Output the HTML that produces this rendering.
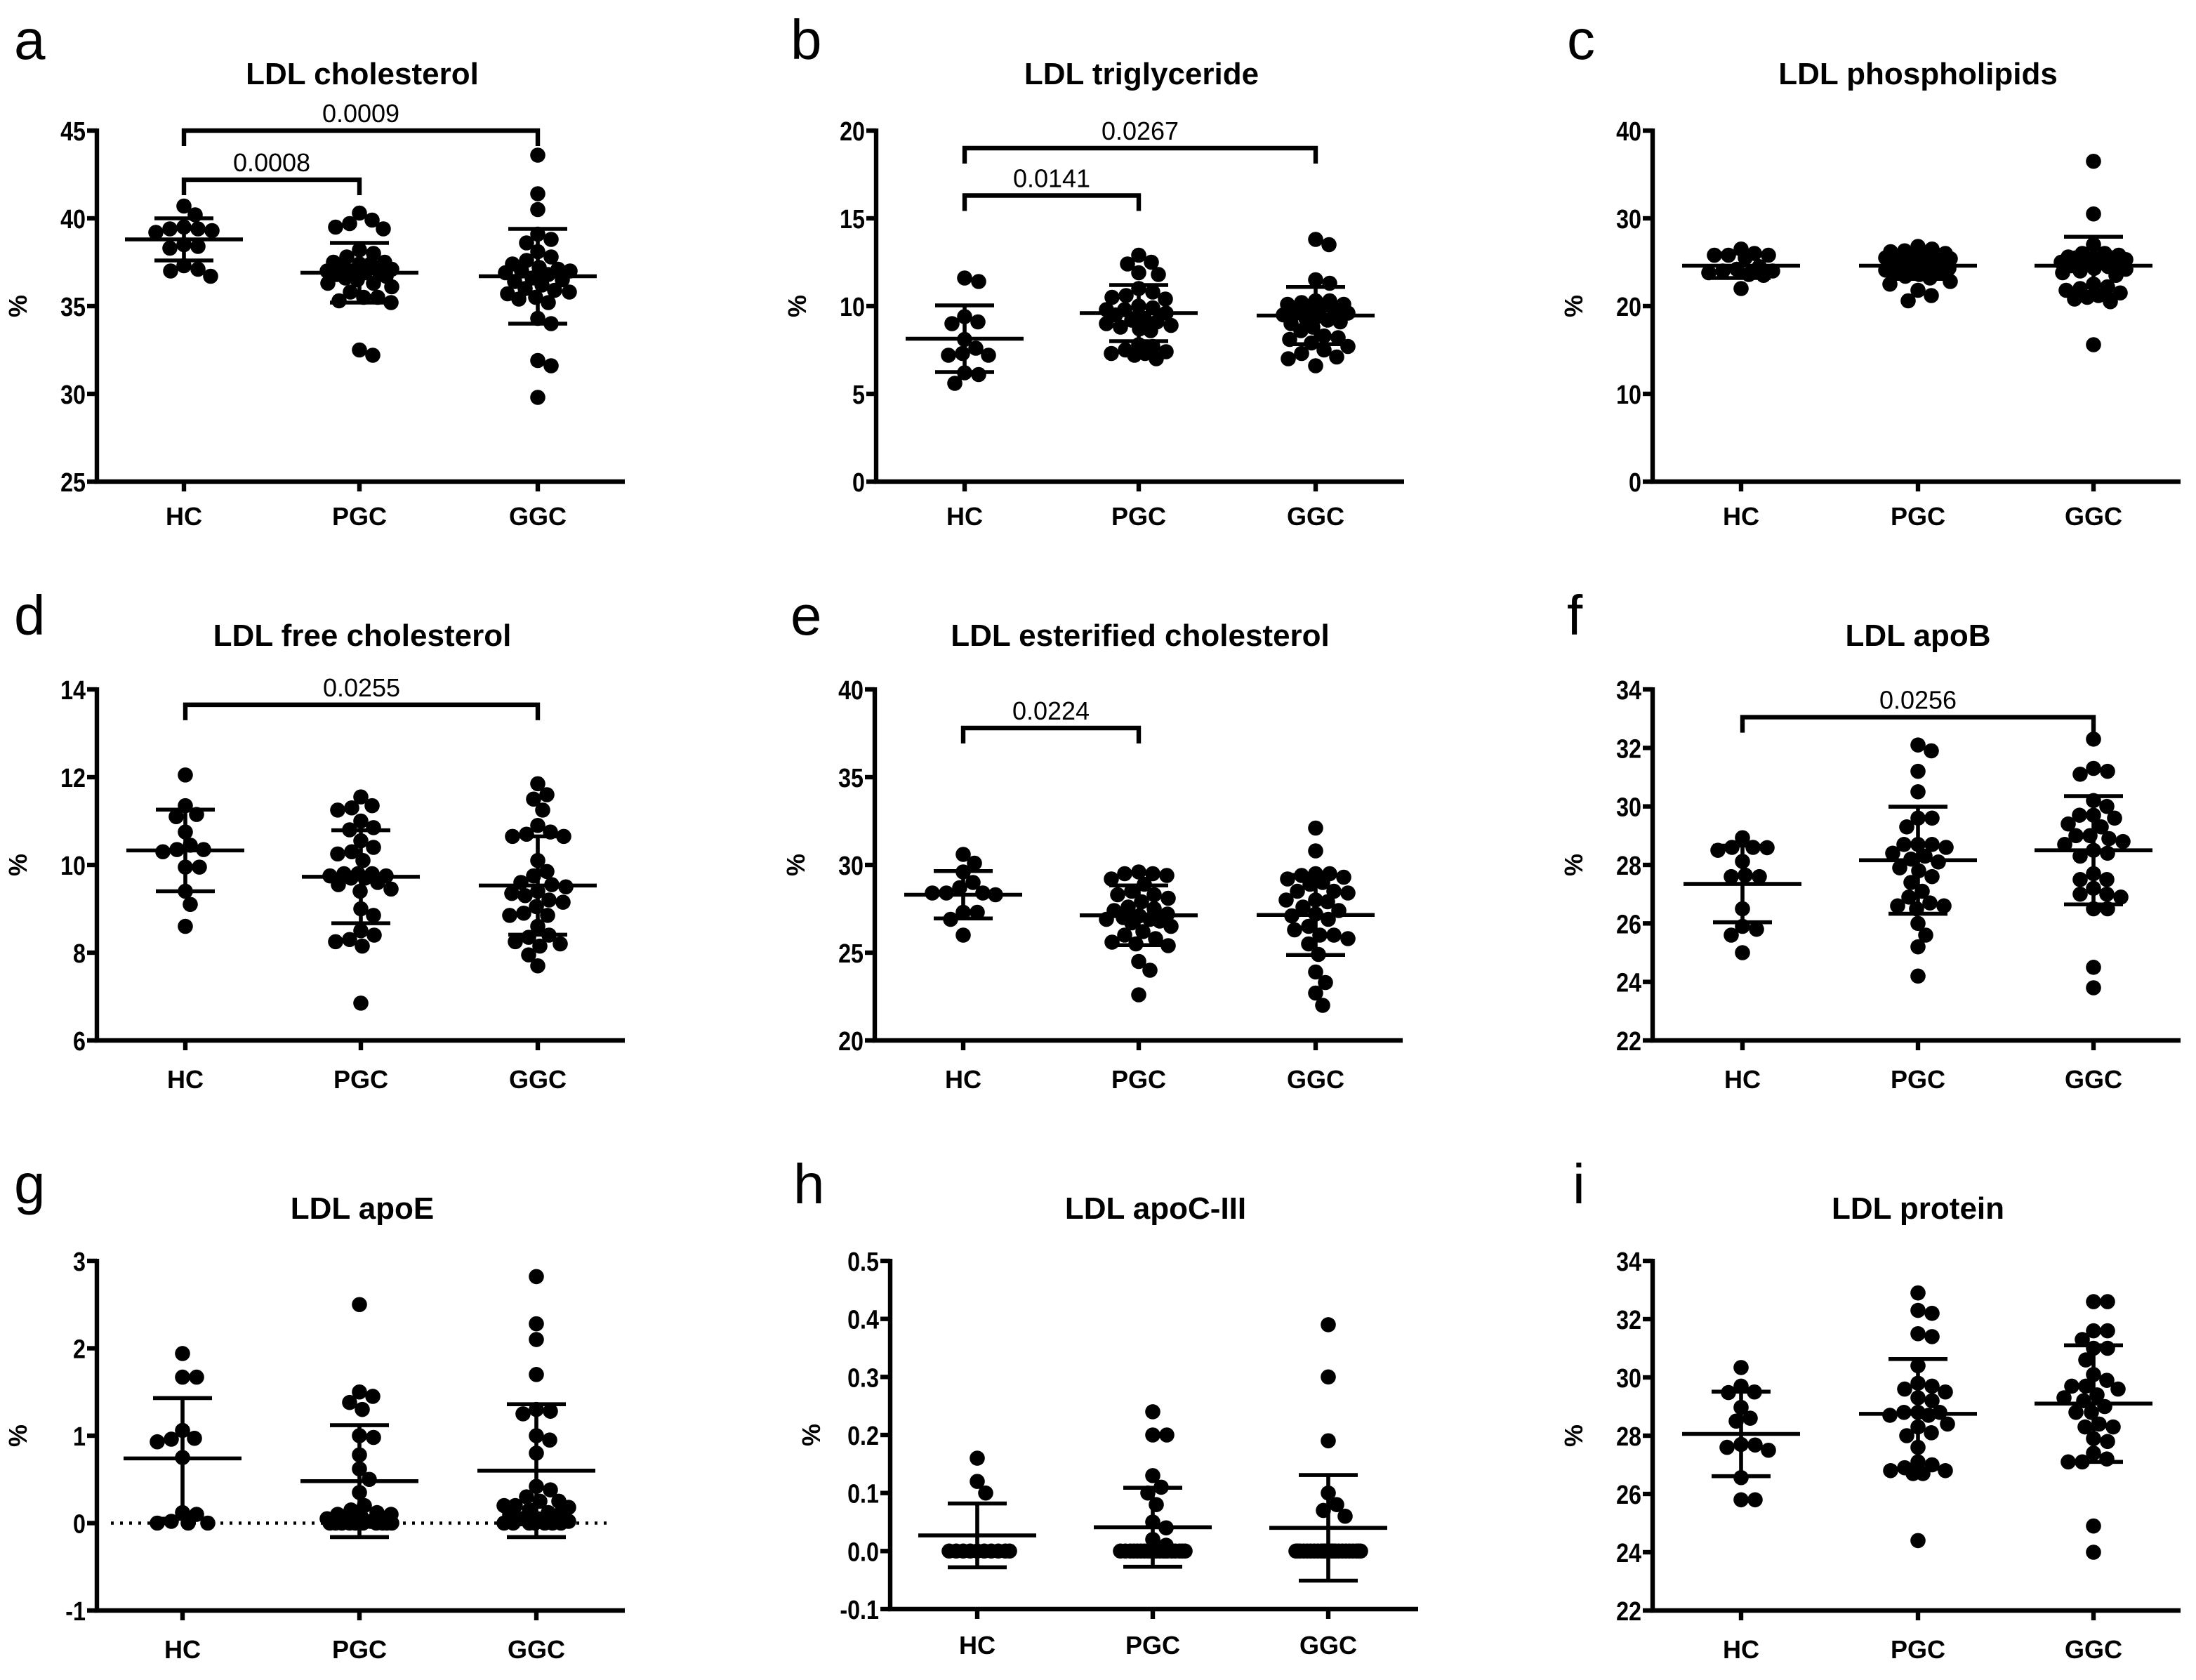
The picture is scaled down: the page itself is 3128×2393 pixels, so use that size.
<!DOCTYPE html>
<html><head><meta charset="utf-8"><style>
html,body{margin:0;padding:0;background:#fff;}
svg{display:block;}
text{font-family:"Liberation Sans",Arial,sans-serif;fill:#000;}
</style></head><body>
<svg id="fig" xmlns="http://www.w3.org/2000/svg" width="3128" height="2393" viewBox="0 0 1564 1196.5"></svg>
<script>
const categories = ["HC","PGC","GGC"];

// a LDL cholesterol
const aHC=[40.7,39.5,39.3,39.2,39.4,40.2,39.4,38.4,38.3,38.5,37.3,37.0,36.7,37.1];
const aPGC=[40.3,39.7,39.9,39.5,39.4,38.2,38.0,37.8,37.5,37.5,37.4,37.4,37.3,37.1,37.0,37.0,37.0,36.9,36.8,36.7,36.6,36.5,36.3,36.3,36.1,35.8,35.5,35.5,35.3,35.2,32.5,32.2];
const aGGC=[43.6,41.4,40.5,39.1,38.8,38.6,38.1,37.8,37.6,37.4,37.2,37.1,37.0,37.0,36.9,36.8,36.6,36.5,36.4,36.2,36.0,35.9,35.8,35.7,35.5,35.4,35.2,34.3,34.0,31.9,31.6,29.8];
const aMean=[38.8,36.9,36.7];
const aSD=[1.2,1.7,2.7];
const aTicks=[25,30,35,40,45];

// b LDL triglyceride
const bHC=[11.4,11.6,9.4,9.0,9.1,8.1,7.6,7.2,7.2,7.3,6.2,6.1,5.6];
const bPGC=[12.9,12.5,12.4,11.9,11.8,11.0,10.8,10.6,10.5,10.4,10.0,9.9,9.8,9.8,9.6,9.5,9.3,9.2,9.1,9.0,8.9,8.8,8.7,8.6,7.8,7.7,7.5,7.4,7.3,7.3,7.2,7.0];
const bGGC=[13.8,13.5,11.5,11.3,10.3,10.3,10.2,10.1,10.1,10.0,9.9,9.7,9.6,9.6,9.5,9.4,9.3,9.2,9.1,9.0,8.8,8.6,8.3,8.2,8.1,7.9,7.7,7.5,7.3,7.1,7.0,6.6];
const bMean=[8.14,9.6,9.46];
const bSD=[1.9,1.6,1.63];
const bTicks=[0,5,10,15,20];

// c LDL phospholipids
const cHC=[25.5,26.0,26.5,25.8,25.8,25.8,24.5,24.2,24.0,23.8,24.0,23.6,23.5,22.0];
const cPGC=[26.8,26.5,26.3,26.2,26.0,26.0,25.9,25.8,25.7,25.6,25.5,25.5,25.4,25.3,25.2,25.0,24.9,24.8,24.6,24.5,24.3,24.1,24.0,23.8,23.6,23.4,23.2,22.8,22.5,21.8,21.2,20.6];
const cGGC=[36.5,30.5,27.0,26.0,26.0,25.8,25.5,25.5,25.5,25.3,25.2,25.0,25.0,24.8,24.6,24.5,24.3,24.2,23.8,23.5,22.5,22.2,22.0,21.8,21.5,21.2,21.0,20.8,20.5,24.0,25.6,15.6];
const cMean=[24.6,24.6,24.6];
const cSD=[1.4,1.5,3.3];
const cTicks=[0,10,20,30,40];

// d LDL free cholesterol
const dHC=[12.05,11.35,11.15,11.1,10.75,10.45,10.35,10.3,10.35,9.95,9.95,9.4,9.1,8.6];
const dPGC=[11.55,11.3,11.35,11.25,11.0,10.85,10.8,10.55,10.4,10.3,10.25,10.1,9.8,9.8,9.8,9.75,9.75,9.7,9.7,9.6,9.55,9.45,9.4,9.0,8.85,8.5,8.4,8.3,8.25,8.15,6.85];
const dGGC=[11.85,11.6,11.5,11.25,10.9,10.75,10.7,10.65,10.65,10.1,9.85,9.75,9.6,9.55,9.5,9.4,9.35,9.3,9.2,9.15,9.05,8.9,8.85,8.85,8.6,8.4,8.35,8.25,8.2,8.15,7.95,7.7];
const dMean=[10.33,9.73,9.53];
const dSD=[0.93,1.06,1.12];
const dTicks=[6,8,10,12,14];

// e LDL esterified cholesterol
const eHC=[30.6,30.1,29.6,29.0,28.7,28.4,28.3,28.4,28.4,27.3,27.3,26.9,26.0];
const ePGC=[29.6,29.5,29.4,29.5,29.2,28.9,28.5,28.3,28.3,28.1,27.9,27.6,27.5,27.4,27.2,27.1,27.0,26.9,26.9,26.8,26.7,26.5,26.2,26.0,25.8,25.6,25.5,25.4,24.5,24.0,22.6];
const eGGC=[32.1,30.8,29.5,29.5,29.4,29.3,29.2,29.0,28.9,28.5,28.5,28.4,28.0,28.0,27.9,27.6,27.4,27.2,27.1,26.9,26.5,26.3,26.0,26.0,25.8,25.5,24.9,23.9,23.3,22.7,22.0];
const eMean=[28.3,27.13,27.15];
const eSD=[1.35,1.7,2.28];
const eTicks=[20,25,30,35,40];

// f LDL apoB
const fHC=[28.93,28.59,28.5,28.6,28.6,28.12,27.65,27.6,27.6,26.5,25.9,25.8,25.6,25.0];
const fPGC=[32.1,31.9,31.2,30.5,29.6,29.6,29.3,28.7,28.7,28.7,28.6,28.4,28.3,28.2,28.1,27.9,27.8,27.6,27.4,27.1,26.9,26.7,26.6,26.6,26.5,26.0,25.6,25.2,24.2];
const fGGC=[32.3,31.3,31.2,31.1,30.2,30.0,29.7,29.7,29.6,29.4,29.3,29.0,29.0,28.9,28.8,28.7,28.5,28.4,28.3,27.7,27.5,27.5,27.2,27.0,27.0,26.9,26.5,26.5,24.5,23.8];
const fMean=[27.35,28.16,28.5];
const fSD=[1.31,1.83,1.85];
const fTicks=[22,24,26,28,30,32,34];

// g LDL apoE
const gHC=[1.94,1.67,1.67,1.06,0.97,0.93,0.96,0.75,0.12,0.1,0.02,0.0,0.0,0.0];
const gPGC=[2.5,1.5,1.45,1.38,1.3,1.0,0.98,0.78,0.62,0.5,0.35,0.2,0.15,0.12,0.1,0.1,0.08,0.05,0.05,0.02,0,0,0,0,0,0,0,0,0,0];
const gGGC=[2.82,2.28,2.1,1.7,1.3,1.28,1.25,1.0,0.95,0.8,0.42,0.38,0.3,0.25,0.25,0.2,0.2,0.18,0.15,0.12,0.1,0.1,0.05,0.05,0.02,0,0,0,0,0,0,0];
const gMean=[0.74,0.48,0.6];
const gSD=[0.69,0.64,0.76];
const gTicks=[-1,0,1,2,3];

// h LDL apoC-III
const hHC=[0.16,0.12,0.10,0,0,0,0,0,0,0,0,0,0];
const hPGC=[0.24,0.20,0.20,0.13,0.11,0.10,0.08,0.05,0.04,0.02,0.01,0,0,0,0,0,0,0,0,0,0,0,0,0,0,0,0,0,0,0,0];
const hGGC=[0.39,0.30,0.19,0.10,0.08,0.07,0.06,0,0,0,0,0,0,0,0,0,0,0,0,0,0,0,0,0,0,0,0,0,0,0,0,0];
const hMean=[0.027,0.041,0.04];
const hSD=[0.055,0.068,0.091];
const hTicks=[-0.1,0.0,0.1,0.2,0.3,0.4,0.5];
const hTickLabels=["-0.1","0.0","0.1","0.2","0.3","0.4","0.5"];

// i LDL protein
const iHC=[30.34,29.7,29.48,29.5,28.97,28.6,28.5,27.68,27.6,27.5,27.7,26.56,25.8,25.8];
const iPGC=[32.9,32.3,32.2,31.5,31.4,30.4,29.8,29.7,29.6,29.5,29.3,29.2,28.8,28.8,28.8,28.7,28.7,28.4,28.3,28.1,28.0,27.6,27.1,27.0,26.9,26.8,26.7,26.7,26.8,24.4];
const iGGC=[32.6,32.6,31.6,31.6,31.3,31.0,31.0,30.6,30.1,29.9,29.7,29.7,29.6,29.4,29.3,29.2,29.0,28.8,28.8,28.4,28.3,28.3,27.9,27.8,27.4,27.2,27.1,27.1,24.9,24.0];
const iMean=[28.06,28.75,29.1];
const iSD=[1.45,1.88,2.0];
const iTicks=[22,24,26,28,30,32,34];

// significance brackets: [fromCat, toCat, value, pLabel]
const aBrackets=[[0,2,45.0,"0.0009"],[0,1,42.2,"0.0008"]];
const bBrackets=[[0,2,19.0,"0.0267"],[0,1,16.3,"0.0141"]];
const dBrackets=[[0,2,13.65,"0.0255"]];
const eBrackets=[[0,1,37.8,"0.0224"]];
const fBrackets=[[0,2,33.05,"0.0256"]];

const NS="http://www.w3.org/2000/svg";
const svg=document.getElementById('fig');
function mk(tag,attrs,parent){const e=document.createElementNS(NS,tag);for(const k in attrs)e.setAttribute(k,attrs[k]);(parent||svg).appendChild(e);return e;}

const R=5.4, LW=3.2;
function swarm(vals, yS, cx, maxHalf){
  const order=vals.map((v,i)=>i).sort((p,q)=>vals[q]-vals[p]);
  const placed=[]; const xs=new Array(vals.length);
  for(const i of order){
    const y=yS(vals[i]); let best=null,bestScore=-1;
    for(let k=0;k<=Math.round(maxHalf*2);k++){
      const off=(k%2?1:-1)*Math.ceil(k/2)*0.5;
      if(Math.abs(off)>maxHalf) continue;
      let md=1e9;
      for(const p of placed){const d=Math.hypot(p[0]-(cx+off),p[1]-y);if(d<md)md=d;}
      if(md>=2*R*0.92){best=off;bestScore=1e9;break;}
      if(md>bestScore){bestScore=md;best=off;}
    }
    xs[i]=cx+best; placed.push([cx+best,y]);
  }
  return xs;
}

function panel(p){
  const g=mk('g',{});
  
  
  const xEnd=p.ax+376;
  const yS=v=>p.bot-(v-p.min)/(p.max-p.min)*(p.bot-p.top);
  const L=mk('text',{x:p.lx,y:p.ly,'font-size':40},g); L.textContent=p.letter;
   
  const T=mk('text',{x:(p.ax+xEnd)/2+1,y:p.ty,'font-size':22,'font-weight':'bold','text-anchor':'middle'},g); T.textContent=p.title;
   
  const yl=mk('text',{x:0,y:0,'font-size':18,'font-weight':'bold','text-anchor':'middle',transform:`translate(${p.ax-50},${(p.top+p.bot)/2}) rotate(-90)`},g); yl.textContent='%';
   
  const axis=mk('path',{d:`M${p.ax},${p.top-1.5}V${p.bot}H${xEnd}`,stroke:'#000','stroke-width':LW,fill:'none'},g);
   
  p.ticks.forEach((t,i)=>{
    const y=yS(t);
    mk('line',{x1:p.ax-7,x2:p.ax,y1:y,y2:y,stroke:'#000','stroke-width':LW},g);
    const tl=mk('text',{x:p.ax-8,y:y+7,'font-size':19,'font-weight':'bold','text-anchor':'end',transform:`translate(${p.ax-8},0) scale(0.85,1) translate(${-(p.ax-8)},0)`},g);
    tl.textContent=p.tickLabels?p.tickLabels[i]:String(t);
     
  });
  if(p.zeroLine){
    const zl=mk('line',{x1:p.ax+10,x2:xEnd-10,y1:yS(0),y2:yS(0),stroke:'#000','stroke-width':2.2,'stroke-dasharray':'2 4.5'},g);
     
  }
  const groups=[p.hc,p.pgc,p.ggc];
  groups.forEach((vals,ci)=>{
    const cx=p.cx[ci];
    mk('line',{x1:cx,x2:cx,y1:p.bot,y2:p.bot+7,stroke:'#000','stroke-width':LW},g);
    const cl=mk('text',{x:cx,y:p.cy,'font-size':18,'font-weight':'bold','text-anchor':'middle'},g); cl.textContent=categories[ci];
     
    const xs=swarm(vals,yS,cx,p.maxHalf||46);
    vals.forEach((v,i)=>{
      const c=mk('circle',{cx:xs[i],cy:yS(v),r:R,fill:'#000'},g);
      
      
    });
    const m=p.mean[ci], s=p.sd[ci];
    const eb=mk('path',{d:`M${cx-42},${yS(m)}H${cx+42}M${cx},${yS(m+s)}V${yS(m-s)}M${cx-21},${yS(m+s)}H${cx+21}M${cx-21},${yS(m-s)}H${cx+21}`,stroke:'#000','stroke-width':2.8,fill:'none'},g);
    
    
  });
  (p.brackets||[]).forEach(b=>{
    const y=yS(b[2]); const x1=p.cx[b[0]], x2=p.cx[b[1]];
    const br=mk('path',{d:`M${x1},${y+11}V${y}H${x2}V${y+11}`,stroke:'#000','stroke-width':LW,fill:'none'},g);
     
    const pt=mk('text',{x:(x1+x2)/2,y:y-6,'font-size':18,'text-anchor':'middle'},g); pt.textContent=b[3];
     
  });
}

const R1={top:93,bot:343,ty:60,ly:42,cy:374};
const R2={top:491,bot:741,ty:460,ly:452,cy:775};
const R3={top:898,bot:1147,ty:868,ly:857,cy:1181};

panel(Object.assign({letter:'a',title:'LDL cholesterol',ax:69,lx:10,cx:[131,256,383],min:25,max:45,ticks:aTicks,hc:aHC,pgc:aPGC,ggc:aGGC,mean:aMean,sd:aSD,brackets:aBrackets},R1));
panel(Object.assign({letter:'b',title:'LDL triglyceride',ax:624,lx:563,cx:[687,811,937],min:0,max:20,ticks:bTicks,hc:bHC,pgc:bPGC,ggc:bGGC,mean:bMean,sd:bSD,brackets:bBrackets},R1));
panel(Object.assign({letter:'c',title:'LDL phospholipids',ax:1177,lx:1116,cx:[1240,1366,1491],min:0,max:40,ticks:cTicks,hc:cHC,pgc:cPGC,ggc:cGGC,mean:cMean,sd:cSD},R1));
panel(Object.assign({letter:'d',title:'LDL free cholesterol',ax:69,lx:10,cx:[132,257,383],min:6,max:14,ticks:dTicks,hc:dHC,pgc:dPGC,ggc:dGGC,mean:dMean,sd:dSD,brackets:dBrackets},R2));
panel(Object.assign({letter:'e',title:'LDL esterified cholesterol',ax:623,lx:563,cx:[686,811,937],min:20,max:40,ticks:eTicks,hc:eHC,pgc:ePGC,ggc:eGGC,mean:eMean,sd:eSD,brackets:eBrackets},R2));
panel(Object.assign({letter:'f',title:'LDL apoB',ax:1177,lx:1116,cx:[1241,1366,1491],min:22,max:34,ticks:fTicks,hc:fHC,pgc:fPGC,ggc:fGGC,mean:fMean,sd:fSD,brackets:fBrackets},R2));
panel(Object.assign({letter:'g',title:'LDL apoE',ax:69,lx:10,cx:[130,256,382],min:-1,max:3,ticks:gTicks,hc:gHC,pgc:gPGC,ggc:gGGC,mean:gMean,sd:gSD,zeroLine:true},R3));
panel(Object.assign({letter:'h',title:'LDL apoC-III',ax:634,lx:565,cx:[696,821,946],min:-0.1,max:0.5,ticks:hTicks,tickLabels:hTickLabels,hc:hHC,pgc:hPGC,ggc:hGGC,mean:hMean,sd:hSD},{top:898,bot:1146,ty:868,ly:857,cy:1178}));
panel(Object.assign({letter:'i',title:'LDL protein',ax:1177,lx:1120,cx:[1240,1366,1491],min:22,max:34,ticks:iTicks,hc:iHC,pgc:iPGC,ggc:iGGC,mean:iMean,sd:iSD},R3));
</script>
</body></html>
